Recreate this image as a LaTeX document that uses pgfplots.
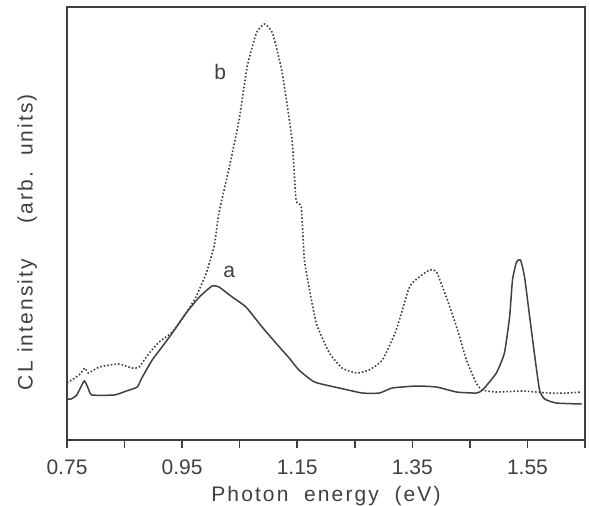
\documentclass[border=0pt]{standalone}
\usepackage{fontspec}
\setmainfont{Liberation Sans}
\usepackage{pgfplots}
\pgfplotsset{compat=1.18}
\usetikzlibrary{calc}
\definecolor{ink}{HTML}{404040}
\newcommand{\lblfont}{\fontsize{10.5}{12}\selectfont\addfontfeature{LetterSpace=10}}

% curve a: solid, curve b: dotted (intensity in arbitrary units)
\pgfplotstableread{
E      I
0.750  41
0.757  41
0.767  45
0.780  59
0.788  50
0.793  45
0.832  45
0.853  49
0.872  53
0.880  62
0.898  80
0.915  93
0.933  107
0.957  127
0.980  143
1.002  154
1.014  153
1.037  143
1.061  133
1.089  113
1.119  93
1.136  82
1.153  70
1.180  58
1.223  52
1.263  47
1.293  47
1.315  52
1.357  54
1.392  53
1.427  48
1.461  47
1.472  50
1.496  67
1.510  87
1.519  123
1.524  160
1.531  178
1.538  180
1.545  163
1.553  127
1.562  87
1.571  50
1.580  41
1.600  37
1.644  36
}\curveA

\pgfplotstableread{
E      I
0.750  57
0.771  65
0.781  72
0.787  67
0.806  73
0.840  76
0.863  72
0.875  73
0.893  87
0.910  98
0.933  108
0.957  127
0.974  143
0.992  167
1.006  195
1.014  227
1.032  273
1.049  320
1.063  373
1.079  407
1.093  416
1.107  407
1.124  367
1.141  300
1.148  240
1.157  233
1.162  183
1.166  167
1.183  117
1.206  87
1.228  72
1.253  67
1.275  70
1.298  80
1.322  110
1.345  153
1.362  163
1.380  170
1.392  168
1.409  143
1.427  113
1.444  80
1.461  57
1.472  50
1.496  48
1.541  49
1.588  47
1.618  47
1.644  48
}\curveB

\begin{document}
\begin{tikzpicture}
\begin{axis}[
  scale only axis,
  width=259pt, height=216.5pt,
  xmin=0.75, xmax=1.65,
  ymin=0, ymax=433,
  axis line style={ink, line width=0.8pt},
  xtick={0.75,0.95,1.15,1.35,1.55},
  xticklabels={0.75,0.95,1.15,1.35,1.55},
  minor xtick={0.85,1.05,1.25,1.45,1.65},
  ytick=\empty,
  tick align=outside,
  xtick pos=bottom,
  major tick length=4pt, minor tick length=4pt,
  tick style={ink, line width=0.8pt},
  tick label style={font=\fontsize{10.5}{12}\selectfont, text=ink},
  xticklabel style={yshift=-2.5pt},
  /pgf/number format/assume math mode=true,
  xlabel={Photon\hspace{0.75em}energy\hspace{0.75em}(eV)},
  ylabel={CL\hspace{0.4em}intensity\hspace{1.7em}(arb.\hspace{0.75em}units)},
  label style={font=\lblfont, text=ink},
  xlabel style={yshift=1pt},
  ylabel style={at={(rel axis cs:-0.077,0.457)}, anchor=center},
  clip=false,
]
\addplot[ink, line width=0.75pt, smooth, tension=0.3] table[x=E, y=I] {\curveA};
\addplot[ink, line width=0.8pt, densely dotted, smooth, tension=0.3] table[x=E, y=I] {\curveB};
\node[font=\lblfont, text=ink] at (axis cs:1.016,368) {b};
\node[font=\lblfont, text=ink] at (axis cs:1.032,168) {a};
\end{axis}
\pgfresetboundingbox
\path ($(current axis.south west)+(-33.5pt,-32.5pt)$) rectangle ($(current axis.north east)+(2.5pt,3.5pt)$);
\end{tikzpicture}
\end{document}
